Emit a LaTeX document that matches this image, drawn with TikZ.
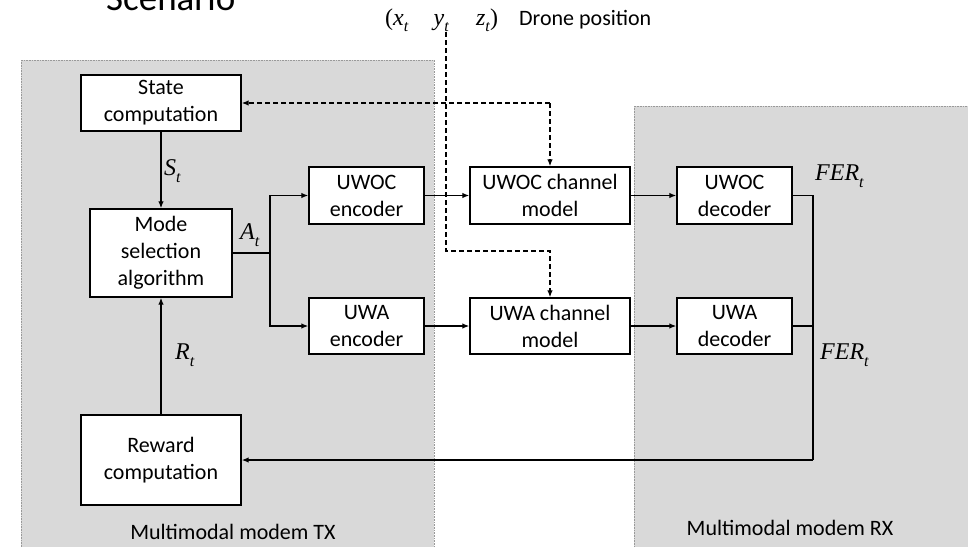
\documentclass[tikz,border=0pt]{standalone}
\usepackage{fontspec}
\setmainfont{Carlito}
\newfontfamily\labfont{Liberation Serif}
\usetikzlibrary{arrows.meta}
\definecolor{panel}{RGB}{217,217,217}
\newcommand{\sublab}[2]{\textit{#1}\raisebox{-0.28em}{\fontsize{16}{18}\selectfont\textit{#2}}}
\tikzset{
  blk/.style={draw=black, line width=1.4pt, fill=white, align=center, inner sep=0pt,
    font=\fontsize{22}{27}\selectfont},
  arr/.style={line width=1.3pt, -{Latex[length=7pt,width=5.5pt]}},
  ln/.style={line width=1.3pt},
  dsh/.style={line width=1.3pt, dash pattern=on 5pt off 3pt},
  dsharr/.style={dsh, -{Latex[length=7pt,width=5.5pt]}},
  panelbox/.style={fill=panel, draw=gray!80, line width=0.6pt, densely dotted},
  mlab/.style={inner sep=0pt, font=\labfont\fontsize{24}{28}\selectfont},
  tlab/.style={inner sep=0pt, font=\fontsize{22}{27}\selectfont}
}
\begin{document}
\begin{tikzpicture}[x=1pt,y=-1pt]
\useasboundingbox (0,0) rectangle (968,546);
% panels
\path[panelbox] (21,60) rectangle (434,560);
\path[panelbox] (634,106) rectangle (980,560);
% top text
\node[tlab, anchor=base west, font=\fontsize{37}{44}\selectfont] (scen) at (106,10) {Scenario};
\node[mlab, anchor=base west] (pos) at (385,25) {(\sublab{x}{t}\hspace{25pt}\sublab{y}{t}\hspace{27pt}\sublab{z}{t})};
\node[tlab, anchor=base west] (drone) at (519,25) {Drone position};
% blocks
\node[blk, minimum width=160pt, minimum height=56pt] (state) at (161,103) {State\\computation};
\node[blk, minimum width=142pt, minimum height=88pt] (mode) at (161,253) {Mode\\selection\\algorithm};
\node[blk, minimum width=115pt, minimum height=57pt] (uwocenc) at (366.5,195.5) {UWOC\\encoder};
\node[blk, minimum width=115pt, minimum height=56pt] (uwaenc) at (366.5,326) {UWA\\encoder};
\node[blk, minimum width=160pt, minimum height=57pt] (uwocch) at (550,195.5) {UWOC channel\\model};
\node[blk, minimum width=160pt, minimum height=56pt] (uwach) at (550,326) {UWA channel\\model};
\node[blk, minimum width=115pt, minimum height=57pt] (uwocdec) at (734.5,195.5) {UWOC\\decoder};
\node[blk, minimum width=115pt, minimum height=56pt] (uwadec) at (734.5,326) {UWA\\decoder};
\node[blk, minimum width=160pt, minimum height=90pt] (reward) at (161,460) {Reward\\computation};
% coordinates
\coordinate (j) at (270,253);
\coordinate (fb) at (813,460);
\coordinate (dtop) at (446,32);
\coordinate (dturn) at (446,251);
\coordinate (sturn) at (550,103);
% connectors
\draw[arr] (state) -- (mode);
\draw[arr] (reward) -- (mode);
\draw[line width=2.6pt] (mode.east) -- (j);
\draw[arr] (j) |- (uwocenc.west);
\draw[arr] (j) |- (uwaenc.west);
\draw[arr] (uwocenc) -- (uwocch);
\draw[arr] (uwaenc) -- (uwach);
\draw[arr] (uwocch) -- (uwocdec);
\draw[arr] (uwach) -- (uwadec);
\draw[ln] (uwocdec.east) -| (fb);
\draw[ln] (uwadec.east) -- (uwadec.east -| fb);
\draw[arr] (fb) -- (reward.east);
% dashed
\draw[dsharr] (sturn) -- (state.east);
\draw[dsharr] (sturn) -- (uwocch.north);
\draw[dsharr] (dtop) -- (dturn) -| (uwach.north);
% labels
\node[mlab, anchor=west] (st) at (164,171) {\sublab{S}{t}};
\node[mlab, anchor=west] (at) at (240,235) {\sublab{A}{t}};
\node[mlab, anchor=west] (rt) at (175,355) {\sublab{R}{t}};
\node[mlab, anchor=west] (fer1) at (815,176) {\sublab{FER}{t}};
\node[mlab, anchor=west] (fer2) at (820,355) {\sublab{FER}{t}};
\node[tlab] (tx) at (233,532) {Multimodal modem TX};
\node[tlab] (rx) at (790,528) {Multimodal modem RX};
\end{tikzpicture}
\end{document}
